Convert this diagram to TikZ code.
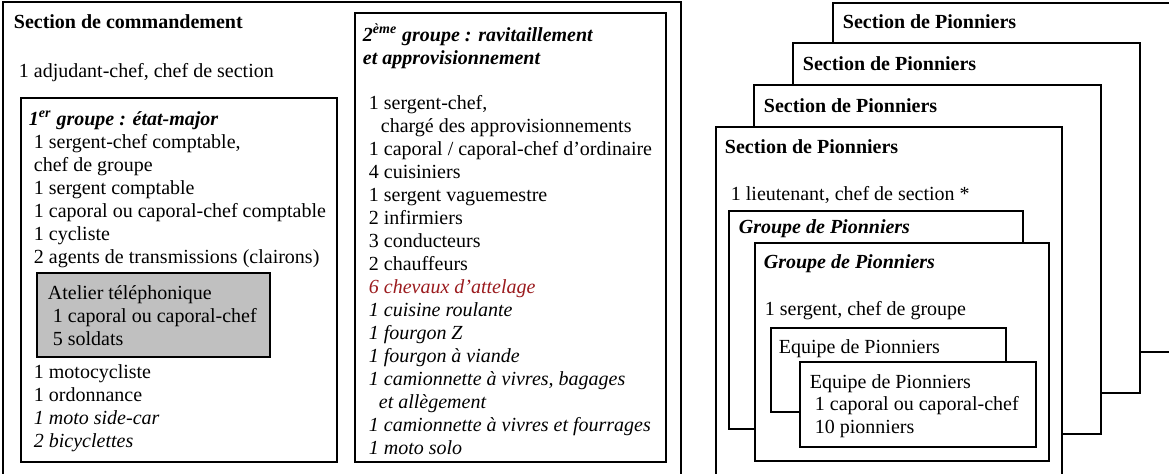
\documentclass[tikz,border=0pt]{standalone}
\usepackage{fontspec}
\setmainfont{Liberation Serif}
\usepackage{tikz}
\definecolor{attelage}{RGB}{155,27,30}
\definecolor{atelier}{RGB}{192,192,192}
\newcommand{\bloc}[1]{\begin{tabular}[t]{@{}l@{}}#1\end{tabular}}

\begin{document}
\begin{tikzpicture}[x=0.5pt, y=-0.5pt, line width=0.9pt,
    font=\fontsize{10}{11.5}\selectfont,
    box/.style={draw, fill=white},
    txt/.style={anchor=base west, inner sep=0pt},
    titre/.style={txt, font=\fontsize{10}{11.5}\selectfont\bfseries},
    titreit/.style={txt, font=\fontsize{10}{11.5}\selectfont\bfseries\itshape}]
  \useasboundingbox (0,0) rectangle (1169,473);
  \clip (0,0) rectangle (1169,473);
  % section de commandement
  \draw[box] (3,2) rectangle (681,490);
  \node[titre] (cmd) at (13,28) {Section de commandement};
  \node[txt] (adj) at (18,77) {1 adjudant-chef, chef de section};
  % 1er groupe
  \draw[box] (21,98) rectangle (337,462);
  \node[titreit] (g1) at (28,125) {1\textsuperscript{er} groupe : état-major};
  \node[txt] (g1a) at (33,148) {\bloc{1 sergent-chef comptable,\\chef de groupe\\1 sergent comptable\\
    1 caporal ou caporal-chef comptable\\1 cycliste\\2 agents de transmissions (clairons)}};
  \draw[box, fill=atelier] (37,273) rectangle (270,357);
  \node[txt] (tel) at (47,299) {Atelier téléphonique};
  \node[txt] (tela) at (52,322) {\bloc{1 caporal ou caporal-chef\\5 soldats}};
  \node[txt] (g1b) at (33,378) {\bloc{1 motocycliste\\1 ordonnance\\\textit{1 moto side-car}\\\textit{2 bicyclettes}}};
  % 2eme groupe
  \draw[box] (355,13) rectangle (666,462);
  \node[titreit] (g2) at (362,41) {\bloc{2\textsuperscript{ème} groupe : ravitaillement\\et approvisionnement}};
  \node[txt] (g2a) at (368,109) {\bloc{1 sergent-chef,\\\hspace{6pt}chargé des approvisionnements\\
    1 caporal / caporal-chef d’ordinaire\\4 cuisiniers\\1 sergent vaguemestre\\2 infirmiers\\
    3 conducteurs\\2 chauffeurs\\\textcolor{attelage}{\textit{6 chevaux d’attelage}}\\
    \textit{1 cuisine roulante}\\\textit{1 fourgon Z}\\\textit{1 fourgon à viande}\\
    \textit{1 camionnette à vivres, bagages}\\\hspace{5pt}\textit{et allègement}\\
    \textit{1 camionnette à vivres et fourrages}\\\textit{1 moto solo}}};
  % sections de pionniers
  \draw[box] (833,3) rectangle (1190,352);
  \node[titre] (s4) at (842,28) {Section de Pionniers};
  \draw[box] (793,43) rectangle (1140,393);
  \node[titre] (s3) at (802,70) {Section de Pionniers};
  \draw[box] (754,85) rectangle (1101,434);
  \node[titre] (s2) at (763,112) {Section de Pionniers};
  \draw[box] (716,127) rectangle (1062,490);
  \node[titre] (s1) at (724,153) {Section de Pionniers};
  \node[txt] (lt) at (730,200) {1 lieutenant, chef de section *};
  % groupes de pionniers
  \draw[box] (729,211) rectangle (1023,429);
  \node[titreit] (gp2) at (738,233) {Groupe de Pionniers};
  \draw[box] (755,243) rectangle (1049,461);
  \node[titreit] (gp1) at (763,268) {Groupe de Pionniers};
  \node[txt] (sgt) at (764,315) {1 sergent, chef de groupe};
  % equipes
  \draw[box] (771,328) rectangle (1006,412);
  \node[txt] (eq2) at (778,353) {Equipe de Pionniers};
  \draw[box] (800,362) rectangle (1036,447);
  \node[txt] (eq1) at (809,388) {Equipe de Pionniers};
  \node[txt] (eq1a) at (814,410) {\bloc{1 caporal ou caporal-chef\\10 pionniers}};
\end{tikzpicture}
\end{document}
